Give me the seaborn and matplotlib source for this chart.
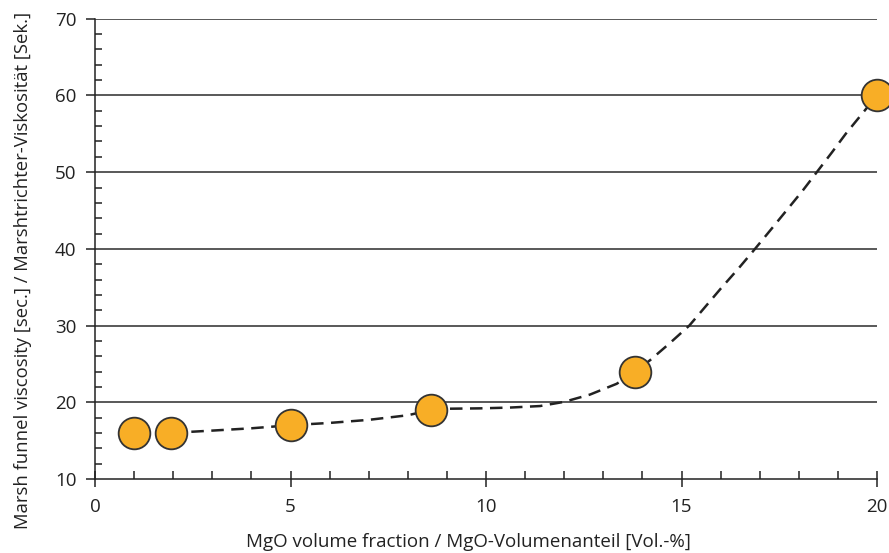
import numpy as np
import pandas as pd
import matplotlib
matplotlib.use("Agg")
import matplotlib.pyplot as plt
from matplotlib.ticker import MultipleLocator
import seaborn as sns

sns.set_style("white")
plt.rcParams['font.family'] = ['Open Sans', 'DejaVu Sans']

# measured points
mgo_x = [1.0, 1.95, 5.0, 8.6, 13.8, 20.0]
visc_y = [16, 16, 17, 19, 24, 60]

# dashed trend curve
curve_x = [1.95, 3, 4, 5, 6, 7, 8, 8.6, 9, 9.85, 10.6, 11.38, 12.0, 12.66,
           13.34, 13.8, 14.2, 14.7, 15.2, 15.6, 16.0, 16.45, 16.88, 17.3,
           17.7, 18.1, 18.46, 18.85, 19.2, 19.6, 20]
curve_y = [16, 16.3, 16.6, 17, 17.3, 17.7, 18.3, 19, 19.15, 19.2, 19.3, 19.5,
           20.05, 21.0, 22.4, 23.9, 25.5, 27.7, 30, 32.4, 34.8, 37.4, 40, 42.6,
           45.1, 47.6, 50, 52.6, 55, 57.5, 60]

pts = pd.DataFrame({'x': mgo_x, 'y': visc_y})
curve = pd.DataFrame({'x': curve_x, 'y': curve_y})

fig = plt.figure(figsize=(8.89, 5.53), dpi=100)
ax = fig.add_axes([0.107, 0.134, 0.8795, 0.832])

# horizontal grid lines
for g in range(20, 71, 10):
    ax.axhline(g, color='#2b2b2b', lw=1.1, zorder=1)

sns.lineplot(data=curve, x='x', y='y', ax=ax, color='#222222', lw=1.8,
             linestyle=(0, (5, 3)), zorder=2)
sns.scatterplot(data=pts, x='x', y='y', ax=ax, s=520, color='#F8AE26',
                edgecolor='#333333', linewidth=1.3, zorder=3, clip_on=False)

ax.set_xlim(0, 20)
ax.set_ylim(10, 70)
ax.xaxis.set_major_locator(MultipleLocator(5))
ax.xaxis.set_minor_locator(MultipleLocator(1))
ax.yaxis.set_major_locator(MultipleLocator(10))
ax.yaxis.set_minor_locator(MultipleLocator(2))

ax.tick_params(axis='x', which='major', direction='inout', length=11.5, width=1.1,
               color='#222222', labelsize=13.5, pad=8)
ax.tick_params(axis='x', which='minor', direction='in', length=5.5, width=1.1,
               color='#222222')
ax.tick_params(axis='y', which='major', direction='out', length=6.5, width=1.1,
               color='#222222', labelsize=13.5, pad=7)
ax.tick_params(axis='y', which='minor', direction='in', length=5, width=1.1,
               color='#222222')
ax.tick_params(left=True, bottom=True, which='both')

for side in ['top', 'right']:
    ax.spines[side].set_visible(False)
for side in ['left', 'bottom']:
    ax.spines[side].set_color('#222222')
    ax.spines[side].set_linewidth(1.1)

ax.set_xlabel('MgO volume fraction / MgO-Volumenanteil [Vol.-%]', fontsize=13.5,
              color='#222222')
ax.set_ylabel('Marsh funnel viscosity [sec.] / Marshtrichter-Viskosität [Sek.]',
              fontsize=13.3, color='#222222')
ax.xaxis.set_label_coords(0.478, -0.118)
ax.yaxis.set_label_coords(-0.081, 0.452)
for lbl in ax.get_xticklabels() + ax.get_yticklabels():
    lbl.set_color('#222222')

fig.savefig('out.png', dpi=100)
